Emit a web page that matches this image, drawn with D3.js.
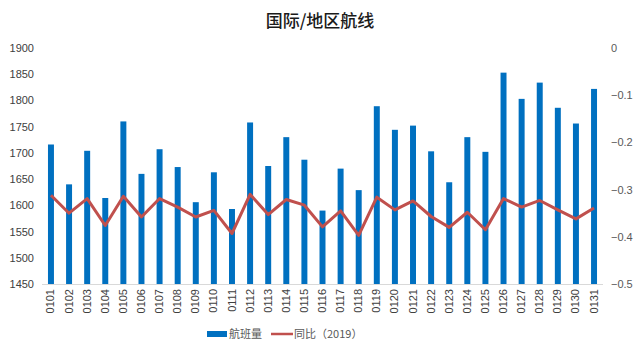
<!DOCTYPE html>
<html>
<head>
<meta charset="utf-8">
<script src="https://cdn.jsdelivr.net/npm/d3@7"></script>
<style>
  body { margin: 0; background: #fff; }
  svg { font-family: "Noto Sans CJK SC", "DejaVu Sans", sans-serif; }
</style>
</head>
<body>
<svg id="chart" width="640" height="353"></svg>
<script>
// Dates (MMDD)
const days = ["0101","0102","0103","0104","0105","0106","0107","0108","0109","0110",
  "0111","0112","0113","0114","0115","0116","0117","0118","0119","0120",
  "0121","0122","0123","0124","0125","0126","0127","0128","0129","0130","0131"];

// Flight count (left axis)
const flights = [1716,1640,1704,1614,1760,1660,1707,1673,1606,1663,
  1593,1758,1675,1730,1687,1590,1670,1629,1789,1744,
  1752,1703,1644,1730,1702,1853,1803,1834,1786,1756,1822];

// Change vs 2019 (right axis)
const yoy = [-0.312,-0.350,-0.319,-0.376,-0.314,-0.358,-0.319,-0.337,-0.358,-0.344,
  -0.393,-0.310,-0.353,-0.321,-0.333,-0.379,-0.345,-0.397,-0.316,-0.343,
  -0.324,-0.357,-0.380,-0.348,-0.385,-0.319,-0.337,-0.323,-0.343,-0.362,-0.339];

const leftTicks = [1450,1500,1550,1600,1650,1700,1750,1800,1850,1900];
const rightTicks = [-0.5,-0.4,-0.3,-0.2,-0.1,0];

const svg = d3.select("#chart");
const plotL = 42, plotR = 603, plotT = 48, plotB = 284;

const x = d3.scaleBand().domain(days).range([plotL, plotR]).paddingInner(0.67).paddingOuter(0.33);
const y = d3.scaleLinear().domain([1450, 1900]).range([plotB, plotT]);
const y2 = d3.scaleLinear().domain([-0.5, 0]).range([plotB, plotT]);

// title
svg.append("text")
  .attr("x", 320).attr("y", 27)
  .attr("text-anchor", "middle")
  .attr("font-size", 17).attr("font-weight", 500).attr("fill", "#1a1a1a")
  .text("国际/地区航线");

// left axis labels
svg.append("g").attr("transform", "translate(34,0)")
  .call(d3.axisLeft(y).tickValues(leftTicks).tickSize(0).tickPadding(0).tickFormat(d3.format("d")))
  .call(g => g.select(".domain").remove())
  .selectAll("text").attr("font-size", 11).attr("fill", "#404040")
  .attr("font-family", "Liberation Sans, sans-serif");

// right axis labels
svg.append("g").attr("transform", "translate(611,0)")
  .call(d3.axisRight(y2).tickValues(rightTicks).tickSize(0).tickPadding(0)
    .tickFormat(d => d === 0 ? "0" : d3.format(".1f")(d)))
  .call(g => g.select(".domain").remove())
  .selectAll("text").attr("font-size", 11).attr("fill", "#595959")
  .attr("font-family", "Liberation Sans, sans-serif");

// bars
svg.append("g").selectAll("rect")
  .data(flights)
  .join("rect")
  .attr("x", (d, i) => x(days[i]))
  .attr("width", x.bandwidth())
  .attr("y", d => y(d))
  .attr("height", d => plotB - y(d))
  .attr("fill", "#0070c0");

// baseline
svg.append("line")
  .attr("x1", plotL).attr("x2", plotR)
  .attr("y1", plotB + 0.5).attr("y2", plotB + 0.5)
  .attr("stroke", "#d9d9d9");

// yoy line
const line = d3.line()
  .x((d, i) => x(days[i]) + x.bandwidth() / 2)
  .y(d => y2(d));
svg.append("path")
  .datum(yoy)
  .attr("d", line)
  .attr("fill", "none")
  .attr("stroke", "#c0504d")
  .attr("stroke-width", 3)
  .attr("stroke-linejoin", "round");

// x labels, rotated
svg.append("g").attr("transform", `translate(0,${plotB + 5})`)
  .call(d3.axisBottom(x).tickSize(0).tickPadding(0))
  .call(g => g.select(".domain").remove())
  .selectAll("text")
  .attr("font-size", 11).attr("fill", "#404040")
  .attr("font-family", "Liberation Sans, sans-serif")
  .attr("transform", "rotate(-90)")
  .attr("text-anchor", "end")
  .attr("x", 0).attr("y", 0)
  .attr("dy", "0.32em");

// legend
const lg = svg.append("g").attr("font-size", 11);
lg.append("rect").attr("x", 207).attr("y", 331).attr("width", 20).attr("height", 6).attr("fill", "#0070c0");
lg.append("text").attr("x", 229).attr("y", 338).attr("fill", "#595959").text("航班量");
lg.append("line").attr("x1", 271).attr("x2", 293).attr("y1", 334).attr("y2", 334)
  .attr("stroke", "#c0504d").attr("stroke-width", 2.5);
lg.append("text").attr("x", 294).attr("y", 338).attr("fill", "#595959").text("同比（2019）");
</script>
</body>
</html>
